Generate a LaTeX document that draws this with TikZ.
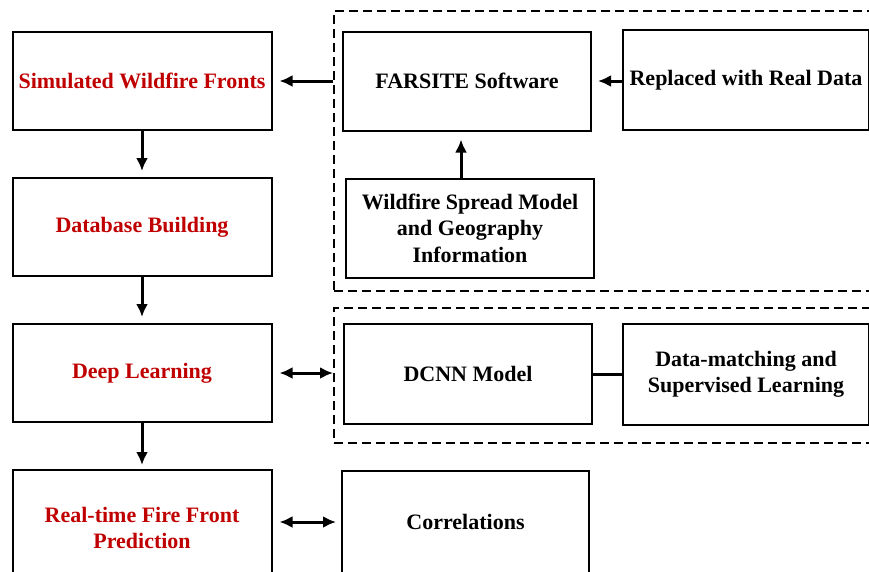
\documentclass[tikz,border=0pt]{standalone}
\usepackage{fontspec}
\setmainfont{Liberation Serif}
\usepackage{tikz}
\usetikzlibrary{arrows.meta}
\definecolor{dred}{RGB}{192,0,0}

\begin{document}
\begin{tikzpicture}[x=1pt,y=-1pt,
	box/.style={draw,line width=2pt,align=center,font=\bfseries\fontsize{22}{26.5}\selectfont,minimum width=248pt,minimum height=99pt,inner sep=2pt},
	lbox/.style={box,minimum width=259pt,minimum height=98pt,text=dred},
	group/.style={draw,dashed,dash pattern=on 9pt off 5pt,line width=2pt},
	arr/.style={line width=3pt,-{Latex[length=13pt,width=12pt]}},
	dbl/.style={line width=3pt,{Latex[length=13pt,width=12pt]}-{Latex[length=13pt,width=12pt]}}]
	\clip (0,0) rectangle (869,571);

	% dashed groups, running off the right edge
	\node[group,minimum width=551pt,minimum height=280pt] (grpsim) at (609.5,151) {};
	\node[group,minimum width=551pt,minimum height=135pt] (grpnet) at (609.5,375.5) {};

	% left column
	\node[lbox] (sim) at (142,81)  {Simulated Wildfire Fronts};
	\node[lbox] (db)  at (142,227) {Database Building};
	\node[lbox] (dl)  at (142,373) {Deep Learning};
	\node[lbox,minimum height=116pt] (rt) at (142,528) {Real-time Fire Front\\Prediction};

	% right side
	\node[box] (farsite) at (467,81)  {FARSITE Software};
	\node[box,minimum width=246pt,minimum height=100pt] (real) at (746,80) {Replaced with Real Data};
	\node[box] (wsm)     at (470,228) {Wildfire Spread Model\\and Geography\\Information};
	\node[box,minimum height=100pt] (dcnn) at (468,374) {DCNN Model};
	\node[box,minimum width=246pt,minimum height=101pt] (match) at (746,374.5) {Data-matching and\\Supervised Learning};
	\node[box,minimum width=247pt,minimum height=103pt] (corr) at (465.5,522) {Correlations};

	% connectors
	\draw[arr,shorten >=7pt] (grpsim.west |- farsite) -- (sim.east |- farsite);
	\draw[arr,shorten >=6pt] (real.west |- farsite) -- (farsite.east);
	\draw[arr,shorten >=8pt] ([xshift=-9pt]wsm.north) -- ([xshift=-9pt]wsm.north |- farsite.south);

	\draw[arr,shorten >=6pt] (sim) -- (db);
	\draw[arr,shorten >=6pt] (db) -- (dl);
	\draw[arr,shorten >=4pt] (dl) -- (rt);

	\draw[dbl,shorten <=7pt] (dl.east) -- (dl -| grpnet.west);
	\draw[line width=3pt] (dcnn.east) -- (dcnn.east -| match.west);
	\draw[dbl,shorten <=7pt,shorten >=5pt] (rt.east |- corr) -- (corr.west);

\end{tikzpicture}
\end{document}
